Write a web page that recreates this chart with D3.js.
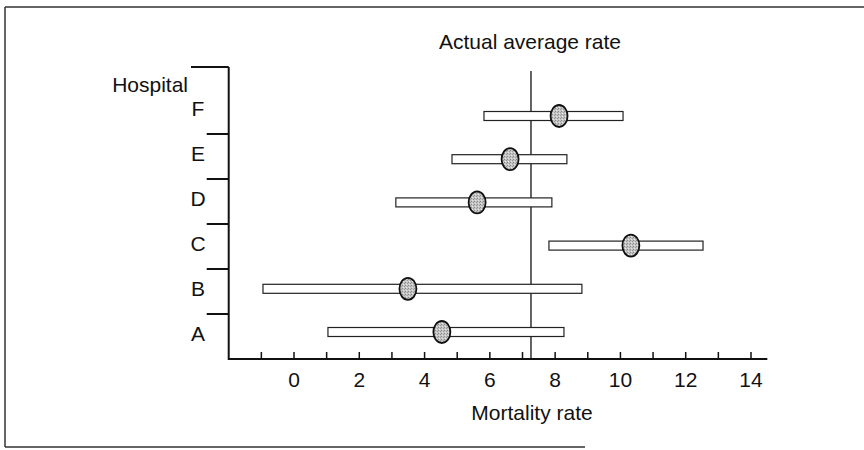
<!DOCTYPE html>
<html>
<head>
<meta charset="utf-8">
<script src="https://cdn.jsdelivr.net/npm/d3@7"></script>
<style>
  html, body { margin: 0; padding: 0; background: #fff; }
  svg { display: block; }
  text { font-family: "Liberation Sans", Arial, Helvetica, sans-serif; fill: #111; }
</style>
</head>
<body>
<svg id="chart" width="864" height="450"></svg>
<script>
// ---- data ----
const hospitals = ["A", "B", "C", "D", "E", "F"];
const lowerLimit = [1.04, -0.95, 7.81, 3.12, 4.84, 5.82];
const upperLimit = [8.27, 8.82, 12.53, 7.90, 8.36, 10.08];
const estimate   = [4.53, 3.49, 10.32, 5.61, 6.62, 8.12];
const averageRate = 7.26;
const xTickValues = [-1, 0, 1, 2, 3, 4, 5, 6, 7, 8, 9, 10, 11, 12, 13, 14];
const xTickLabels = ["0", "2", "4", "6", "8", "10", "12", "14"];
const titleText = "Actual average rate";
const xAxisTitle = "Mortality rate";
const yAxisTitle = "Hospital";

const rows = hospitals.map((h, i) => ({
  h, lo: lowerLimit[i], hi: upperLimit[i], est: estimate[i]
}));

const svg = d3.select("#chart");
const FS = 21;

// ---- scales ----
const x = d3.scaleLinear().domain([0, 14]).range([294, 751]);
const axisY = 359, axisX = x(-2), axisEndX = x(14.5), yTop = 67;
const band = d3.scaleBand().domain(hospitals).range([axisY, 89]).padding(0);
const yMark = d3.scalePoint().domain(hospitals).range([332, 116]);

// ---- outer frame (scanned figure border) ----
const frame = svg.append("g").attr("stroke", "#333").attr("stroke-width", 1.5).attr("fill", "none");
frame.append("line").attr("x1", 5).attr("y1", 7).attr("x2", 864).attr("y2", 7);
frame.append("line").attr("x1", 5).attr("y1", 7).attr("x2", 5).attr("y2", 447);
frame.append("line").attr("x1", 5).attr("y1", 447).attr("x2", 585).attr("y2", 447);

// ---- title ----
svg.append("text").attr("x", 530).attr("y", 49)
  .attr("text-anchor", "middle").attr("font-size", FS).text(titleText);

// ---- y axis (hospital) ----
const yAx = svg.append("g").attr("stroke", "#111").attr("stroke-width", 2).attr("fill", "none");
yAx.append("line").attr("x1", axisX).attr("y1", yTop).attr("x2", axisX).attr("y2", axisY + 1);
yAx.append("line").attr("x1", 191).attr("y1", yTop).attr("x2", axisX).attr("y2", yTop);
yAx.selectAll("line.div").data(hospitals.slice(1)).join("line").attr("class", "div")
  .attr("x1", axisX - 22).attr("x2", axisX)
  .attr("y1", d => band(d) + band.bandwidth())
  .attr("y2", d => band(d) + band.bandwidth());

svg.selectAll("text.cat").data(hospitals).join("text").attr("class", "cat")
  .attr("x", 198).attr("y", d => band(d) + band.bandwidth() / 2 - 3)
  .attr("dy", "0.35em").attr("text-anchor", "middle").attr("font-size", FS)
  .text(d => d);

svg.append("text").attr("x", 188).attr("y", 92)
  .attr("text-anchor", "end").attr("font-size", FS).text(yAxisTitle);

// ---- x axis ----
const xAx = svg.append("g");
xAx.append("line").attr("x1", axisX).attr("x2", axisEndX).attr("y1", axisY).attr("y2", axisY)
  .attr("stroke", "#111").attr("stroke-width", 2);
xAx.selectAll("line.tick").data(xTickValues).join("line").attr("class", "tick")
  .attr("x1", d => x(d)).attr("x2", d => x(d))
  .attr("y1", axisY).attr("y2", axisY - 7)
  .attr("stroke", "#111").attr("stroke-width", 1.5);
xAx.selectAll("text.tl").data(xTickLabels).join("text").attr("class", "tl")
  .attr("x", d => x(+d)).attr("y", 387)
  .attr("text-anchor", "middle").attr("font-size", FS).text(d => d);
svg.append("text").attr("x", 532).attr("y", 420)
  .attr("text-anchor", "middle").attr("font-size", FS).text(xAxisTitle);

// ---- reference line ----
svg.append("line").attr("x1", x(averageRate)).attr("x2", x(averageRate))
  .attr("y1", 71).attr("y2", axisY)
  .attr("stroke", "#111").attr("stroke-width", 1.3);

// ---- stipple pattern for points ----
const defs = svg.append("defs");
const pat = defs.append("pattern").attr("id", "stip").attr("patternUnits", "userSpaceOnUse")
  .attr("width", 3).attr("height", 3);
pat.append("rect").attr("width", 3).attr("height", 3).attr("fill", "#c4c4c4");
pat.append("rect").attr("x", 0).attr("y", 0).attr("width", 1).attr("height", 1).attr("fill", "#888");
pat.append("rect").attr("x", 2).attr("y", 1).attr("width", 1).attr("height", 1).attr("fill", "#999");
pat.append("rect").attr("x", 1).attr("y", 2).attr("width", 1).attr("height", 1).attr("fill", "#e6e6e6");

// ---- interval bars ----
const barH = 9;
svg.selectAll("rect.bar").data(rows).join("rect").attr("class", "bar")
  .attr("x", d => x(d.lo)).attr("width", d => x(d.hi) - x(d.lo))
  .attr("y", d => yMark(d.h) - barH / 2).attr("height", barH)
  .attr("fill", "#fff").attr("stroke", "#222").attr("stroke-width", 1.2);

// ---- point estimates ----
svg.selectAll("ellipse.pt").data(rows).join("ellipse").attr("class", "pt")
  .attr("cx", d => x(d.est)).attr("cy", d => yMark(d.h))
  .attr("rx", 8.5).attr("ry", 11)
  .attr("fill", "url(#stip)").attr("stroke", "#111").attr("stroke-width", 1.8);
</script>
</body>
</html>
